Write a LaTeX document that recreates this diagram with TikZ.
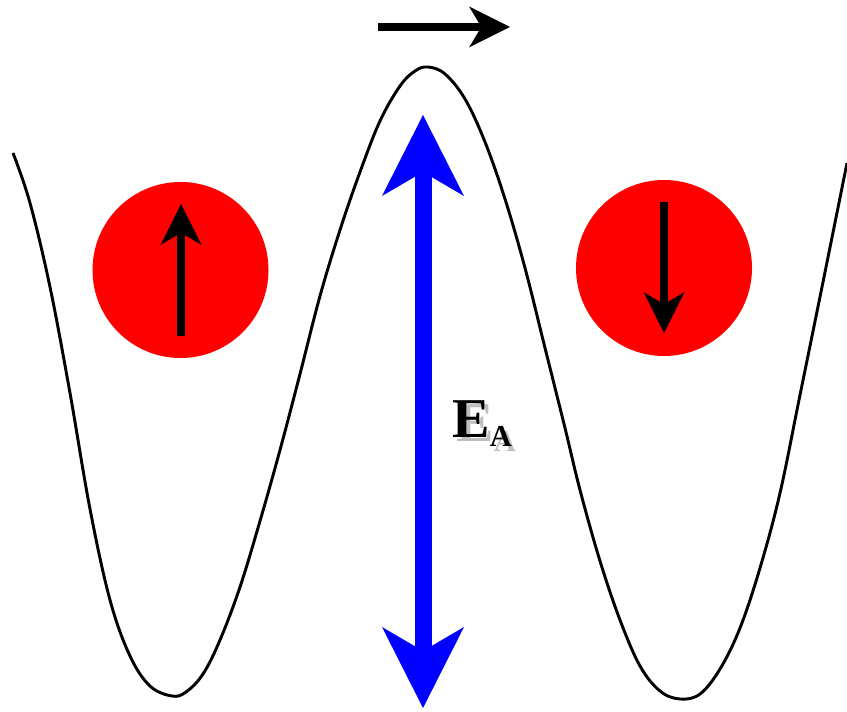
\documentclass[tikz,border=0pt]{standalone}
\usepackage{fontspec}
\usepackage{xcolor}
\usepackage{tikz}
\usetikzlibrary{arrows.meta}
\newfontfamily\labfont{Liberation Serif}
\definecolor{spn}{RGB}{255,0,0}
\definecolor{bar}{RGB}{0,0,255}
\definecolor{shd}{RGB}{190,190,190}
\newcommand{\eaText}{E\raisebox{-8.5pt}{\fontsize{26}{28}\selectfont A}}
\newcommand{\eaShadow}{\rlap{\kern3.6pt\raisebox{-3.6pt}{\textcolor{shd}{\eaText}}}\eaText}

\begin{document}
\begin{tikzpicture}[x=0.03cm,y=-0.03cm,
  well/.style={line width=2.5pt,line join=round},
  ball/.style={circle,fill=spn,inner sep=0pt,minimum size=5.28cm},
  spinarr/.style={line width=0.24cm,-{Stealth[length=1.23cm,width=1.23cm,inset=0.37cm,line width=0pt]}},
  ealab/.style={font=\labfont\bfseries\fontsize{48}{50}\selectfont,inner sep=0pt,anchor=base west}]
  \useasboundingbox (0,0) rectangle (847,712);
  % double well
  \draw[well] plot[smooth,tension=0.6] coordinates {(13,153) (30,203) (50,287) (70,393) (90,509)
    (110,600) (130,656) (150,686) (172,696) (186,692) (203,674) (220,640) (240,587) (260,521)
    (280,450) (300,374) (320,296) (340,230) (360,172) (380,121) (400,86) (415,71) (428,67) (445,74)
    (465,99) (485,142) (505,199) (525,268) (545,348) (565,428) (580,490) (600,561) (620,620)
    (640,666) (660,691) (680,699) (700,694) (720,669) (740,628) (760,568) (780,493) (800,395)
    (823,282) (847,163)};
  % spins in the two wells
  \node[ball] (left spin) at (180.5,270) {};
  \node[ball] (right spin) at (664,268) {};
  \coordinate (up tail) at (181,336); \coordinate (up tip) at (181,204);
  \coordinate (dn tail) at (664,202); \coordinate (dn tip) at (664,333);
  \draw[spinarr] (up tail) -- (up tip);
  \draw[spinarr] (dn tail) -- (dn tip);
  % hop over the barrier
  \coordinate (hop start) at (378,27); \coordinate (hop end) at (510,27);
  \draw[spinarr] (hop start) -- (hop end);
  % barrier height
  \coordinate (ea bot) at (423,708); \coordinate (ea top) at (423,115);
  \draw[bar,line width=0.51cm,{Stealth[length=2.43cm,width=2.46cm,inset=0.72cm,line width=0pt]}-{Stealth[length=2.43cm,width=2.46cm,inset=0.72cm,line width=0pt]}] (ea bot) -- (ea top);
  \node[ealab] (ea label) at (452,437) {\eaShadow};
\end{tikzpicture}
\end{document}
